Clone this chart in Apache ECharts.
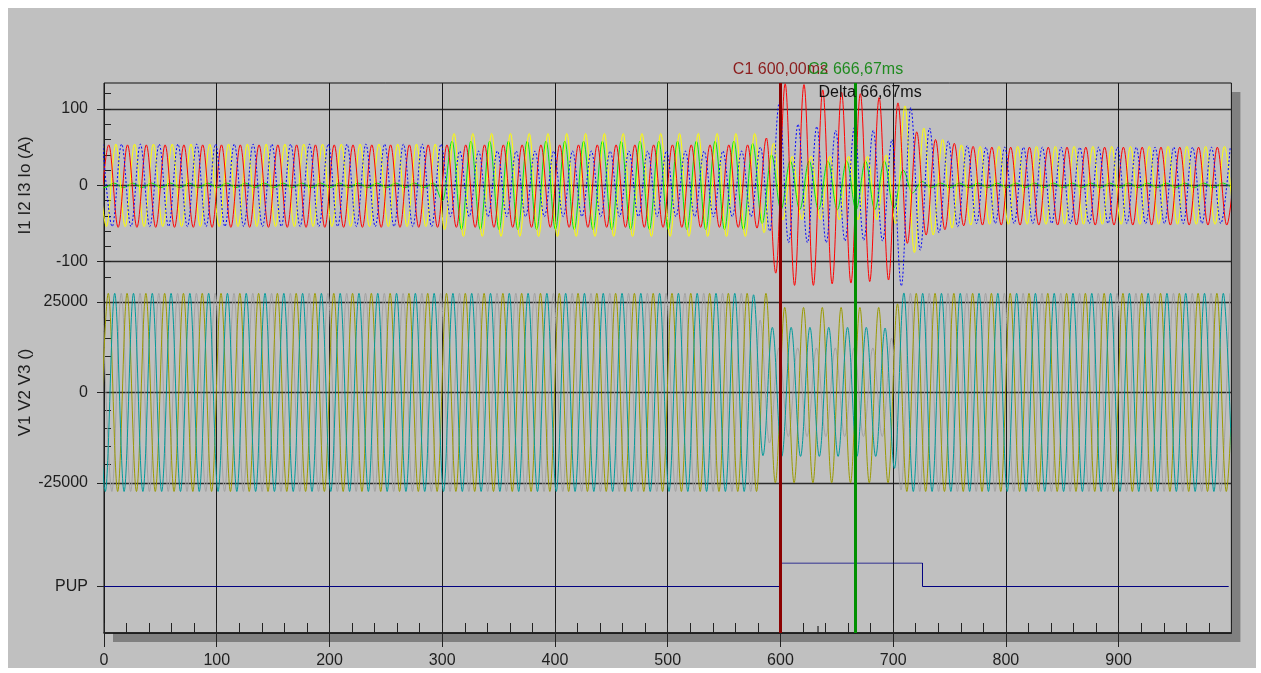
<!DOCTYPE html>
<html>
<head>
<meta charset="utf-8">
<script src="https://cdn.jsdelivr.net/npm/echarts@6/dist/echarts.min.js"></script>
<style>
  html, body { margin: 0; padding: 0; background: #ffffff; }
  #chart { position: absolute; left: 8px; top: 8px; width: 1248px; height: 660px; background: #c0c0c0; }
</style>
</head>
<body>
<div id="chart"></div>
<script>
// 60 Hz disturbance record. Each channel is stored as the signed peak value of
// every half cycle (one entry per 8.33 ms), starting at the listed time in ms.
const HALF_CYCLE_MS = 1000 / 120;

// Currents (A)
const i1Start = -4.13;
const i1Extremes = [
  -55, 53, -55, 53, -55, 53, -55, 53, -55, 53, -55, 53,
  -55, 53, -55, 53, -55, 53, -55, 53, -55, 53, -55, 53,
  -55, 53, -55, 53, -55, 53, -55, 53, -55, 53, -55, 53,
  -55, 53, -55, 53, -55, 53, -55, 53, -55, 53, -55, 53,
  -55, 53, -55, 53, -55, 53, -55, 53, -55, 53, -55, 53,
  -55, 53, -55, 53, -55, 53, -55, 53, -55, 53, -56, 62,
  -115, 133, -131, 132, -131, 125, -129, 122, -128, 120, -126, 115,
  -124, 108, -76, 70, -65, 60, -58, 55, -53, 51, -52, 50,
  -52, 50, -52, 50, -52, 50, -52, 50, -52, 50, -52, 50,
  -52, 50, -52, 50, -52, 50, -52, 50, -52, 50, -52, 50,
  -52, 50
];

const i2Start = -6.17;
const i2Extremes = [
  54, -54, 54, -54, 54, -54, 54, -54, 54, -54, 54, -54,
  54, -54, 54, -54, 54, -54, 54, -54, 54, -54, 54, -54,
  54, -54, 54, -54, 54, -54, 54, -54, 54, -54, 54, -54,
  54, -58, 68, -67, 68, -67, 68, -67, 68, -67, 68, -67,
  68, -67, 68, -67, 68, -67, 68, -67, 68, -67, 68, -67,
  68, -67, 68, -67, 68, -67, 68, -67, 68, -67, 68, -62,
  55, -45, 38, -45, 38, -45, 38, -45, 38, -45, 38, -45,
  40, -50, 104, -88, 75, -65, 60, -56, 53, -52, 51, -51,
  51, -51, 51, -51, 51, -51, 51, -51, 51, -51, 51, -51,
  51, -51, 51, -51, 51, -51, 51, -51, 51, -51, 51, -51,
  51, -51
];

const i3Start = -1.07;
const i3Extremes = [
  54, -54, 54, -54, 54, -54, 54, -54, 54, -54, 54, -54,
  54, -54, 54, -54, 54, -54, 54, -54, 54, -54, 54, -54,
  54, -54, 54, -54, 54, -54, 54, -54, 54, -54, 54, -54,
  54, -41, 45, -41, 45, -41, 45, -41, 45, -41, 45, -41,
  45, -41, 45, -41, 45, -41, 45, -41, 45, -41, 45, -41,
  45, -41, 45, -41, 45, -41, 45, -41, 45, -41, 50, -60,
  108, -75, 80, -75, 77, -75, 72, -73, 76, -72, 72, -73,
  60, -132, 102, -85, 75, -62, 58, -54, 52, -50, 50, -50,
  50, -50, 50, -50, 50, -50, 50, -50, 50, -50, 50, -50,
  50, -50, 50, -50, 50, -50, 50, -50, 50, -50, 50, -50,
  50
];

const ioStart = -7.9;
const ioExtremes = [
  3, -3, 3, -3, 3, -3, 3, -3, 3, -3, 3, -3,
  3, -3, 3, -3, 3, -3, 3, -3, 3, -3, 3, -3,
  3, -3, 3, -3, 3, -3, 3, -3, 3, -3, 3, -3,
  3, -20, 58, -58, 58, -58, 58, -58, 58, -58, 58, -58,
  58, -58, 58, -58, 58, -58, 58, -58, 58, -58, 58, -58,
  58, -58, 58, -58, 58, -58, 58, -58, 58, -58, 55, -50,
  40, -32, 32, -32, 32, -32, 32, -32, 32, -32, 32, -32,
  32, -30, 20, -10, 5, -3, 3, -3, 3, -3, 3, -3,
  3, -3, 3, -3, 3, -3, 3, -3, 3, -3, 3, -3,
  3, -3, 3, -3, 3, -3, 3, -3, 3, -3, 3, -3,
  3, -3
];

// Voltages (V)
const v1Start = -4.53;
const v1Extremes = [
  -27400, 27400, -27400, 27400, -27400, 27400, -27400, 27400, -27400, 27400, -27400, 27400,
  -27400, 27400, -27400, 27400, -27400, 27400, -27400, 27400, -27400, 27400, -27400, 27400,
  -27400, 27400, -27400, 27400, -27400, 27400, -27400, 27400, -27400, 27400, -27400, 27400,
  -27400, 27400, -27400, 27400, -27400, 27400, -27400, 27400, -27400, 27400, -27400, 27400,
  -27400, 27400, -27400, 27400, -27400, 27400, -27400, 27400, -27400, 27400, -27400, 27400,
  -27400, 27400, -27400, 27400, -27400, 27400, -27400, 27400, -27400, 27400, -27400, 27400,
  -25000, 23500, -25000, 23500, -25000, 23500, -25000, 23500, -25000, 23500, -25000, 23500,
  -25000, 24500, -27400, 27400, -27400, 27400, -27400, 27400, -27400, 27400, -27400, 27400,
  -27400, 27400, -27400, 27400, -27400, 27400, -27400, 27400, -27400, 27400, -27400, 27400,
  -27400, 27400, -27400, 27400, -27400, 27400, -27400, 27400, -27400, 27400, -27400, 27400,
  -27400, 27400
];

const v2Start = -7.17;
const v2Extremes = [
  27400, -27400, 27400, -27400, 27400, -27400, 27400, -27400, 27400, -27400, 27400, -27400,
  27400, -27400, 27400, -27400, 27400, -27400, 27400, -27400, 27400, -27400, 27400, -27400,
  27400, -27400, 27400, -27400, 27400, -27400, 27400, -27400, 27400, -27400, 27400, -27400,
  27400, -27400, 27400, -27400, 27400, -27400, 27400, -27400, 27400, -27400, 27400, -27400,
  27400, -27400, 27400, -27400, 27400, -27400, 27400, -27400, 27400, -27400, 27400, -27400,
  27400, -27400, 27400, -27400, 27400, -27400, 27400, -27400, 27400, -27400, 27000, -17500,
  18000, -17700, 18000, -17700, 18000, -17700, 18000, -17700, 18000, -17700, 18000, -17700,
  17800, -21000, 27500, -27400, 27400, -27400, 27400, -27400, 27400, -27400, 27400, -27400,
  27400, -27400, 27400, -27400, 27400, -27400, 27400, -27400, 27400, -27400, 27400, -27400,
  27400, -27400, 27400, -27400, 27400, -27400, 27400, -27400, 27400, -27400, 27400, -27400,
  27400, -27400
];

const v3Start = -1.37;
const v3Extremes = [
  27400, -27400, 27400, -27400, 27400, -27400, 27400, -27400, 27400, -27400, 27400, -27400,
  27400, -27400, 27400, -27400, 27400, -27400, 27400, -27400, 27400, -27400, 27400, -27400,
  27400, -27400, 27400, -27400, 27400, -27400, 27400, -27400, 27400, -27400, 27400, -27400,
  27400, -27400, 27400, -27400, 27400, -27400, 27400, -27400, 27400, -27400, 27400, -27400,
  27400, -27400, 27400, -27400, 27400, -27400, 27400, -27400, 27400, -27400, 27400, -27400,
  27400, -27400, 27400, -27400, 27400, -27400, 27400, -27400, 27400, -27400, 20000, -14000,
  12300, -12200, 12300, -12200, 12300, -12200, 12300, -12200, 12300, -12200, 12300, -12200,
  15000, -27000, 27400, -27400, 27400, -27400, 27400, -27400, 27400, -27400, 27400, -27400,
  27400, -27400, 27400, -27400, 27400, -27400, 27400, -27400, 27400, -27400, 27400, -27400,
  27400, -27400, 27400, -27400, 27400, -27400, 27400, -27400, 27400, -27400, 27400, -27400,
  27400
];

// Pickup digital channel
const pupTimes = [0, 600, 726, 997.6];
const pupLevels = [0, 1, 0, 0];

// Cursors
const cursorNames = ['C1', 'C2'];
const cursorTimes = [600, 666.67];

// Axis ticks
const timeTicks = [0, 100, 200, 300, 400, 500, 600, 700, 800, 900];
const currentTicks = [-100, 0, 100];
const voltageTicks = [-25000, 0, 25000];

function waveform(start, extremes) {
  return extremes.map((v, i) => [start + i * HALF_CYCLE_MS, v]);
}
function msText(t) {
  return t.toFixed(2).replace('.', ',') + 'ms';
}

const FONT = "'Liberation Sans', Arial, sans-serif";
const TEXT = '#1e1e1e';
const PX_PER_MS = 1.1274;
const PLOT_LEFT = 96;
const PLOT_TOP = 75;
const PLOT_H = 550;
const PLOT_W = 1000 * PX_PER_MS;
const DATA_END = 998;
const DATA_W = DATA_END * PX_PER_MS;

function gridBox(top, width, height, extra) {
  return Object.assign({ left: PLOT_LEFT, top: top, width: width, height: height,
    containLabel: false, outerBoundsMode: 'none' }, extra || {});
}

// grid 0: frame fill + drop shadow; 1-3: currents; 4-6: voltages; 7: PUP; 8: frame border
const grids = [
  gridBox(PLOT_TOP, PLOT_W, PLOT_H, { show: true, backgroundColor: '#c0c0c0',
    borderWidth: 0, borderColor: 'rgba(0,0,0,0)',
    shadowColor: '#808080', shadowOffsetX: 9, shadowOffsetY: 9, shadowBlur: 0 }),
  gridBox(PLOT_TOP, DATA_W, 209),
  gridBox(101, PLOT_W, 152.7),
  gridBox(85.73, PLOT_W, 183.24),
  gridBox(282, DATA_W, 210),
  gridBox(294, PLOT_W, 180.8),
  gridBox(312.08, PLOT_W, 144.64),
  gridBox(555.0, PLOT_W, 23.5),
  gridBox(PLOT_TOP, PLOT_W, PLOT_H, { show: true,
    backgroundColor: 'rgba(0,0,0,0)', borderColor: '#111', borderWidth: 1 })
];

function hiddenX(gi, max) {
  return { gridIndex: gi, type: 'value', min: 0, max: max, show: false };
}

// xAxis index for grid g (1 <= g <= 8) is g + 1
const xAxes = [
  { gridIndex: 0, type: 'value', min: 0, max: 1000, interval: 100, position: 'bottom',
    axisLine: { show: true, onZero: false, lineStyle: { color: '#111', width: 1.5 } },
    axisTick: { show: true, length: 14, customValues: timeTicks, lineStyle: { color: '#222' } },
    axisLabel: { show: true, customValues: timeTicks, fontSize: 16, color: TEXT, margin: 20, fontFamily: FONT },
    splitLine: { show: true, lineStyle: { color: '#1a1a1a', width: 1 } } },
  { gridIndex: 0, type: 'value', min: 0, max: 1000, interval: 20, position: 'bottom',
    axisLine: { show: false }, axisTick: { show: true, inside: true, length: 10, lineStyle: { color: '#222' } },
    axisLabel: { show: false }, splitLine: { show: false } },
  hiddenX(1, DATA_END), hiddenX(2, 1000), hiddenX(3, 1000),
  hiddenX(4, DATA_END), hiddenX(5, 1000), hiddenX(6, 1000), hiddenX(7, 1000), hiddenX(8, 1000)
];

function scaleAxis(gi, min, max, interval, name) {
  return { gridIndex: gi, type: 'value', min: min, max: max, interval: interval, position: 'left',
    axisLine: { show: false },
    axisTick: { show: true, length: 7, lineStyle: { color: '#222' } },
    axisLabel: { show: true, fontSize: 16, color: TEXT, margin: 16, fontFamily: FONT, formatter: v => String(v) },
    splitLine: { show: true, lineStyle: { color: '#2a2a2a', width: 1.3 } },
    name: name, nameLocation: 'middle', nameGap: 70, nameMoveOverlap: false,
    nameTextStyle: { fontSize: 17, color: TEXT, fontFamily: FONT } };
}
function minorAxis(gi, min, max, interval) {
  return { gridIndex: gi, type: 'value', min: min, max: max, interval: interval, position: 'left',
    axisLine: { show: false },
    axisTick: { show: true, inside: true, length: 7, lineStyle: { color: '#222' } },
    axisLabel: { show: false }, splitLine: { show: false } };
}

const yAxes = [
  { gridIndex: 0, type: 'value', min: 0, max: 1, show: false },
  { gridIndex: 1, type: 'value', min: -139.69, max: 134.05, show: false },
  scaleAxis(2, currentTicks[0], currentTicks[2], 100, 'I1 I2 I3 Io (A)'),
  minorAxis(3, -120, 120, 20),
  { gridIndex: 4, type: 'value', min: -29757, max: 28319, show: false },
  scaleAxis(5, voltageTicks[0], voltageTicks[2], 25000, 'V1 V2 V3 ()'),
  minorAxis(6, -20000, 20000, 5000),
  { gridIndex: 7, type: 'value', min: 0, max: 1, position: 'left',
    axisLine: { show: false },
    axisTick: { show: true, length: 7, customValues: [0], lineStyle: { color: '#222' } },
    axisLabel: { show: true, customValues: [0], fontSize: 16, color: TEXT, margin: 16, fontFamily: FONT,
      formatter: v => (v === 0 ? 'PUP' : '') },
    splitLine: { show: false } },
  { gridIndex: 8, type: 'value', min: 0, max: 1, show: false }
];

function trace(name, start, extremes, gridIdx, color, dash) {
  return { name: name, type: 'line', xAxisIndex: gridIdx + 1, yAxisIndex: gridIdx,
    data: waveform(start, extremes), showSymbol: false, symbol: 'none',
    smooth: 0.36, smoothMonotone: 'x', clip: true, silent: true,
    lineStyle: { color: color, width: 1, type: dash || 'solid' } };
}

const mid = (cursorTimes[0] + cursorTimes[1]) / 2;
const delta = cursorTimes[1] - cursorTimes[0];
const cursorLine = ['#8b0000', '#009000'];
const cursorText = ['#8b1c1c', '#1f8a1f'];

const series = [
  trace('V3', v3Start, v3Extremes, 4, '#a2a2a2'),
  trace('V1', v1Start, v1Extremes, 4, '#9a9a00'),
  trace('V2', v2Start, v2Extremes, 4, '#009a9a'),
  trace('Io', ioStart, ioExtremes, 1, '#00ee00'),
  trace('I2', i2Start, i2Extremes, 1, '#ffff00'),
  trace('I1', i1Start, i1Extremes, 1, '#ff0000'),
  trace('I3', i3Start, i3Extremes, 1, '#0000ff', [2, 2]),
  { name: 'PUP', type: 'line', xAxisIndex: 8, yAxisIndex: 7, step: 'end',
    data: pupTimes.map((t, i) => [t, pupLevels[i]]), showSymbol: false, symbol: 'none', silent: true,
    lineStyle: { color: '#000080', width: 1 } },
  { name: 'cursors', type: 'line', xAxisIndex: 0, yAxisIndex: 0, data: [], silent: true,
    markLine: { symbol: 'none', silent: true, animation: false,
      data: cursorTimes.map((t, i) => ({ xAxis: t,
        lineStyle: { color: cursorLine[i], width: 3, type: 'solid' },
        label: { show: true, position: 'end', distance: 5, formatter: cursorNames[i] + ' ' + msText(t),
          color: cursorText[i], fontSize: 16, fontFamily: FONT } })) },
    markPoint: { silent: true, animation: false,
      data: [
        { coord: [mid, 1], symbol: 'rect', symbolSize: 1, itemStyle: { color: 'rgba(0,0,0,0)' },
          label: { show: true, position: 'right', distance: 0, offset: [0, 10], formatter: 'Delta ' + msText(delta),
            color: '#111', fontSize: 16, fontFamily: FONT } },
        { coord: [mid, 0], symbol: 'rect', symbolSize: [1.2, 7], symbolOffset: [0, -3.5],
          itemStyle: { color: '#222' }, label: { show: false } }
      ] } }
];

const chart = echarts.init(document.getElementById('chart'), null, { renderer: 'canvas' });
chart.setOption({
  animation: false,
  backgroundColor: '#c0c0c0',
  textStyle: { fontFamily: FONT },
  grid: grids,
  xAxis: xAxes,
  yAxis: yAxes,
  series: series
});
</script>
</body>
</html>
